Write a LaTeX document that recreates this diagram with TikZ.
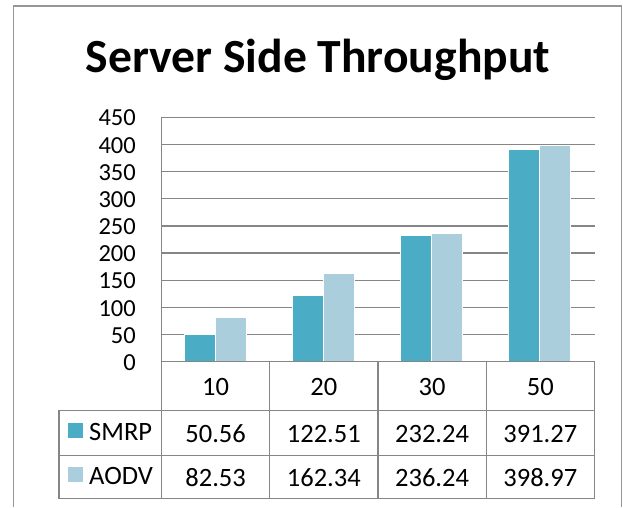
\documentclass[tikz,border=0pt]{standalone}
\usepackage{fontspec}
\setmainfont{Carlito}
\definecolor{smrp}{RGB}{75,172,198}
\definecolor{aodv}{RGB}{170,206,220}
\definecolor{gridc}{RGB}{134,134,134}
\definecolor{framec}{RGB}{150,150,150}
\begin{document}
\begin{tikzpicture}[x=1pt,y=-1pt,
  gridline/.style={gridc,line width=1.3pt},
  tabline/.style={gridc,line width=1.3pt},
  lbl/.style={inner sep=0pt,font=\fontsize{24.5}{24.5}\selectfont},
  tlbl/.style={inner sep=0pt,font=\fontsize{26.5}{26.5}\selectfont},
  smrpbar/.style={fill=smrp,draw=white,line width=0.6pt},
  aodvbar/.style={fill=aodv,draw=white,line width=0.6pt}]
\useasboundingbox (0,0) rectangle (623,507);
\fill[white] (0,0) rectangle (623,507);
% frame
\draw[framec,line width=1.3pt] (13.5,507) -- (13.5,6) -- (621.5,6) -- (621.5,507);
% title
\node[inner sep=0pt,anchor=base,font=\fontsize{47.6}{48}\selectfont\bfseries] (title) at (318,72) {Server Side Throughput};
% gridlines and y labels
\foreach \v [count=\k] in {50,100,...,450}{
  \draw[gridline] (161.5,{361.7-\v*0.5432}) -- (594.5,{361.7-\v*0.5432});
}
\foreach \v in {0,50,...,450}{
  \node[lbl,anchor=east] (y\v) at (136,{362.5-\v*0.5432}) {\v};
}
% bars
\foreach \s/\a [count=\i from 0] in {50.56/82.53,122.51/162.34,232.24/236.24,391.27/398.97}{
  \pgfmathsetmacro{\xs}{161.5+\i*108.25}
  \fill[smrpbar] ({\xs+22.5},361.7) rectangle ({\xs+53.5},{361.7-\s*0.5432});
  \fill[aodvbar] ({\xs+53.5},361.7) rectangle ({\xs+84.5},{361.7-\a*0.5432});
}
% table lines
\draw[tabline] (161.5,117.3) -- (161.5,498.7);
\draw[tabline] (161.5,361.7) -- (594.5,361.7) -- (594.5,498.7) -- (59,498.7) -- (59,410.7) -- (594.5,410.7);
\draw[tabline] (59,455.7) -- (594.5,455.7);
\foreach \i in {1,2,3}{
  \draw[tabline] ({161.5+\i*108.25},361.7) -- ({161.5+\i*108.25},498.7);
}
% category labels
\foreach \c [count=\i from 0] in {10,20,30,50}{
  \node[tlbl] (c\c) at ({215.6+\i*108.25},386.5) {\c};
}
% data values
\foreach \s/\a [count=\i from 0] in {50.56/82.53,122.51/162.34,232.24/236.24,391.27/398.97}{
  \node[tlbl] (s\i) at ({215.6+\i*108.25},433.5) {\s};
  \node[tlbl] (a\i) at ({215.6+\i*108.25},477.5) {\a};
}
% legend
\fill[smrp] (68.3,423.3) rectangle (82.7,437.7);
\fill[aodv] (68.3,467.3) rectangle (82.7,481.7);
\node[tlbl,anchor=west] (lsmrp) at (89,431.5) {SMRP};
\node[tlbl,anchor=west] (laodv) at (89,475.5) {AODV};
\end{tikzpicture}
\end{document}
